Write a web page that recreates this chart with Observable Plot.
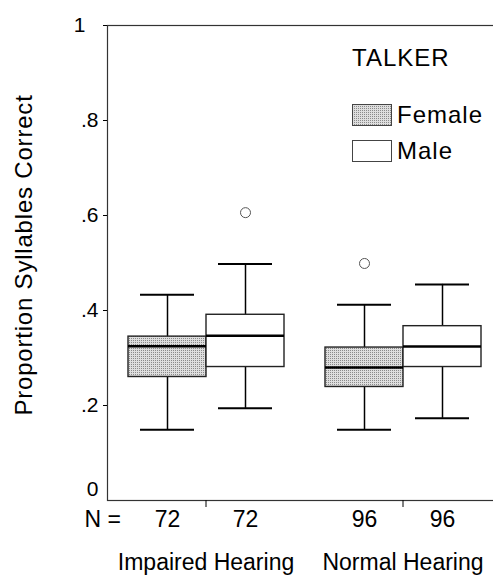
<!DOCTYPE html>
<html>
<head>
<meta charset="utf-8">
<script src="https://cdn.jsdelivr.net/npm/d3@7"></script>
<script src="https://cdn.jsdelivr.net/npm/@observablehq/plot@0.6"></script>
<style>
  html, body { margin: 0; padding: 0; background: white; overflow: hidden; }
  #wrap { position: relative; width: 493px; height: 575px; font-family: "Liberation Sans", Arial, sans-serif; color: #000; }
  #legend { position: absolute; left: 352px; top: 44px; }
  #legend .title { font-size: 24px; letter-spacing: 1px; line-height: 28px; margin-bottom: 25px; }
  #legend .item { display: flex; align-items: center; height: 36px; font-size: 24px; letter-spacing: 1px; }
  #legend .item svg { margin-right: 5px; }
</style>
</head>
<body>
<div id="wrap">
  <div id="chart"></div>
  <div id="legend"></div>
</div>
<script>
// ---- data ----
const groupNames = ["Impaired Hearing", "Normal Hearing"];
const talkerNames = ["Female", "Male"];
const groups = ["Impaired Hearing", "Impaired Hearing", "Normal Hearing", "Normal Hearing"];
const talkers = ["Female", "Male", "Female", "Male"];
const lowWhisker = [0.149, 0.194, 0.149, 0.173];
const q1 = [0.260, 0.281, 0.239, 0.281];
const median = [0.325, 0.347, 0.280, 0.324];
const q3 = [0.345, 0.391, 0.322, 0.367];
const highWhisker = [0.433, 0.498, 0.412, 0.455];
const counts = [72, 72, 96, 96];
const outlierGroups = ["Impaired Hearing", "Normal Hearing"];
const outlierTalkers = ["Male", "Female"];
const outlierValues = [0.606, 0.499];
const yTicks = [0.2, 0.4, 0.6, 0.8, 1];
const yLabel = "Proportion Syllables Correct";
const legendTitle = "TALKER";

const rows = groups.map((g, i) => ({
  group: g, talker: talkers[i], low: lowWhisker[i], q1: q1[i],
  med: median[i], q3: q3[i], high: highWhisker[i], n: counts[i]
}));
const outliers = outlierGroups.map((g, i) => ({group: g, talker: outlierTalkers[i], value: outlierValues[i]}));

const fmt = d => d === 0 ? "0" : d === 1 ? "1" : d3.format(".1f")(d).replace(/^0/, "");
const ink = "#000";

const plot = Plot.plot({
  width: 493,
  height: 575,
  marginTop: 25,
  marginBottom: 75,
  marginLeft: 106,
  marginRight: -8,
  style: {fontFamily: "'Liberation Sans', Arial, sans-serif", color: ink, background: "white"},
  fx: {domain: groupNames, padding: 0},
  x: {domain: talkerNames, paddingInner: 0, paddingOuter: 0.25, axis: null},
  y: {domain: [0, 1]},
  marks: [
    Plot.frame({facet: "super", stroke: "#333", strokeWidth: 1.2}),
    Plot.axisY(yTicks, {anchor: "left", tickSize: 4, tickPadding: 5, fontSize: 21, tickFormat: d => d === 1 ? "" : fmt(d), label: null}),
    Plot.axisY([1], {anchor: "left", tickSize: 0, tickPadding: 22, fontSize: 21, tickFormat: fmt, label: null}),
    Plot.axisY([0], {anchor: "left", tickSize: 0, tickPadding: 9, fontSize: 21, tickFormat: fmt, label: null, dy: -11}),
    Plot.axisFx({anchor: "bottom", tickSize: 7, tickPadding: 46, fontSize: 23, label: null}),
    Plot.text([yLabel], {fx: () => groupNames[0], frameAnchor: "left", textAnchor: "middle", rotate: -90, dx: -83, dy: -8, fontSize: 24}),
    Plot.text(["N ="], {fx: () => groupNames[0], frameAnchor: "bottom-left", textAnchor: "start", dx: -23, dy: 26, fontSize: 23}),
    Plot.text(rows, {fx: "group", x: "talker", text: d => String(d.n), frameAnchor: "bottom", dy: 26, fontSize: 23}),
    Plot.ruleX(rows, {fx: "group", x: "talker", y1: "low", y2: "q1", stroke: ink, strokeWidth: 1.5}),
    Plot.ruleX(rows, {fx: "group", x: "talker", y1: "q3", y2: "high", stroke: ink, strokeWidth: 1.5}),
    Plot.tickY(rows, {fx: "group", x: "talker", y: "low", insetLeft: 12, insetRight: 12, stroke: ink, strokeWidth: 2}),
    Plot.tickY(rows, {fx: "group", x: "talker", y: "high", insetLeft: 12, insetRight: 12, stroke: ink, strokeWidth: 2}),
    Plot.barY(rows, {filter: d => d.talker === "Female", fx: "group", x: "talker", y1: "q1", y2: "q3", fill: "url(#stipple)", stroke: "#222", strokeWidth: 1.4}),
    Plot.barY(rows, {filter: d => d.talker === "Male", fx: "group", x: "talker", y1: "q1", y2: "q3", fill: "white", stroke: "#222", strokeWidth: 1.4}),
    Plot.tickY(rows, {fx: "group", x: "talker", y: "med", stroke: ink, strokeWidth: 2.5}),
    Plot.dot(outliers, {fx: "group", x: "talker", y: "value", r: 5, stroke: "#555", strokeWidth: 1, fill: "white"})
  ]
});

// stipple pattern for the Female boxes
const defs = document.createElementNS("http://www.w3.org/2000/svg", "defs");
defs.innerHTML = '<pattern id="stipple" width="2" height="2" patternUnits="userSpaceOnUse">' +
  '<rect width="2" height="2" fill="#dedede"/><rect width="1" height="1" fill="#8a8a8a"/></pattern>';
plot.insertBefore(defs, plot.firstChild);

// letter spacing for the y label
plot.querySelectorAll("text").forEach(t => {
  if (t.textContent === yLabel) t.setAttribute("letter-spacing", "0.8");
});

document.getElementById("chart").appendChild(plot);

// legend
const legend = document.getElementById("legend");
const title = document.createElement("div");
title.className = "title";
title.textContent = legendTitle;
legend.appendChild(title);
const swatchFill = {Female: "url(#stipple2)", Male: "white"};
talkerNames.forEach(name => {
  const item = document.createElement("div");
  item.className = "item";
  item.innerHTML = '<svg width="40" height="22"><defs><pattern id="stipple2" width="2" height="2" patternUnits="userSpaceOnUse">' +
    '<rect width="2" height="2" fill="#dedede"/><rect width="1" height="1" fill="#8a8a8a"/></pattern></defs>' +
    '<rect x="0.5" y="0.5" width="39" height="21" fill="' + swatchFill[name] + '" stroke="#444" stroke-width="1"/></svg>' +
    '<span>' + name + '</span>';
  legend.appendChild(item);
});
</script>
</body>
</html>
